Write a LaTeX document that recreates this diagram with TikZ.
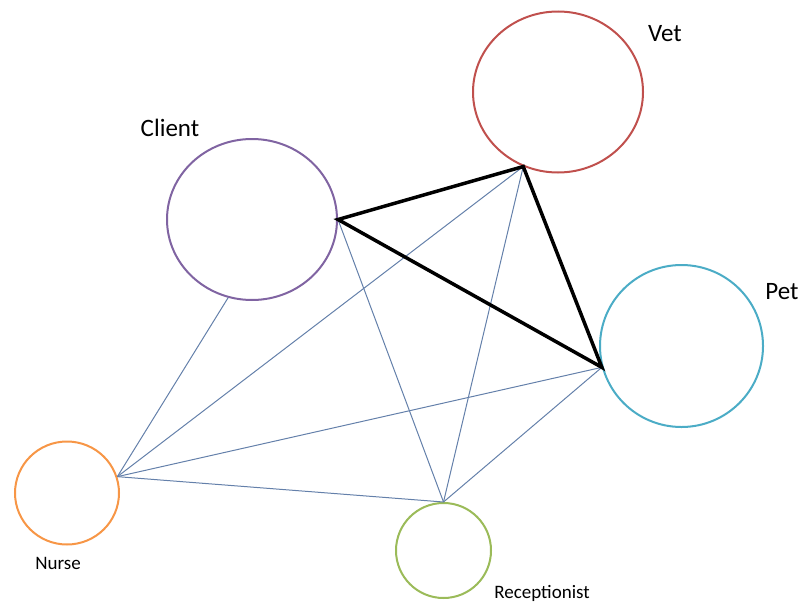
\documentclass[tikz,border=0pt]{standalone}
\usepackage{fontspec}
\setmainfont{Carlito}
\usetikzlibrary{shapes.geometric}
\definecolor{vetred}{RGB}{192,80,77}
\definecolor{clientpurple}{RGB}{128,100,162}
\definecolor{petteal}{RGB}{75,172,198}
\definecolor{nurseorange}{RGB}{247,150,70}
\definecolor{recgreen}{RGB}{155,187,89}
\definecolor{linkblue}{RGB}{100,128,170}
\begin{document}
\begin{tikzpicture}[x=1pt,y=-1pt,
  role/.style={ellipse,draw,line width=2pt,inner sep=0pt,fill=white},
  biglabel/.style={font=\fontsize{25}{30}\selectfont,inner sep=0pt},
  smalllabel/.style={font=\fontsize{19}{23}\selectfont,inner sep=0pt},
  thinlink/.style={draw=linkblue,line width=1pt},
  thicklink/.style={draw=black,line width=3.5pt,line join=miter}]
\useasboundingbox (0,0) rectangle (802,605);
% circles
\node[role,draw=vetred,minimum width=170pt,minimum height=161pt] (vet) at (558,92) {};
\node[role,draw=clientpurple,minimum width=170pt,minimum height=161pt] (client) at (252,219.5) {};
\node[role,draw=petteal,minimum width=163pt,minimum height=162pt] (pet) at (681.5,346) {};
\node[role,draw=nurseorange,minimum width=104pt,minimum height=103pt] (nurse) at (67,493) {};
\node[role,draw=recgreen,minimum width=95pt,minimum height=95pt] (rec) at (443.5,550.5) {};
% labels
\node[biglabel] (vetlabel) at (665,34) {Vet};
\node[biglabel] (clientlabel) at (170,128) {Client};
\node[biglabel] (petlabel) at (782,292) {Pet};
\node[smalllabel] (nurselabel) at (58,563) {Nurse};
\node[smalllabel] (reclabel) at (542,593) {Receptionist};
% thin links
\draw[thinlink] (client.253) -- (nurse.18);
\draw[thinlink] (nurse.18) -- (vet.245);
\draw[thinlink] (nurse.18) -- (pet.195);
\draw[thinlink] (nurse.18) -- (rec.north);
\draw[thinlink] (client.east) -- (rec.north);
\draw[thinlink] (vet.245) -- (rec.north);
\draw[thinlink] (pet.195) -- (rec.north);
% thick triangle
\draw[thicklink] (client.east) -- (vet.245) -- (pet.195) -- cycle;
\end{tikzpicture}
\end{document}
